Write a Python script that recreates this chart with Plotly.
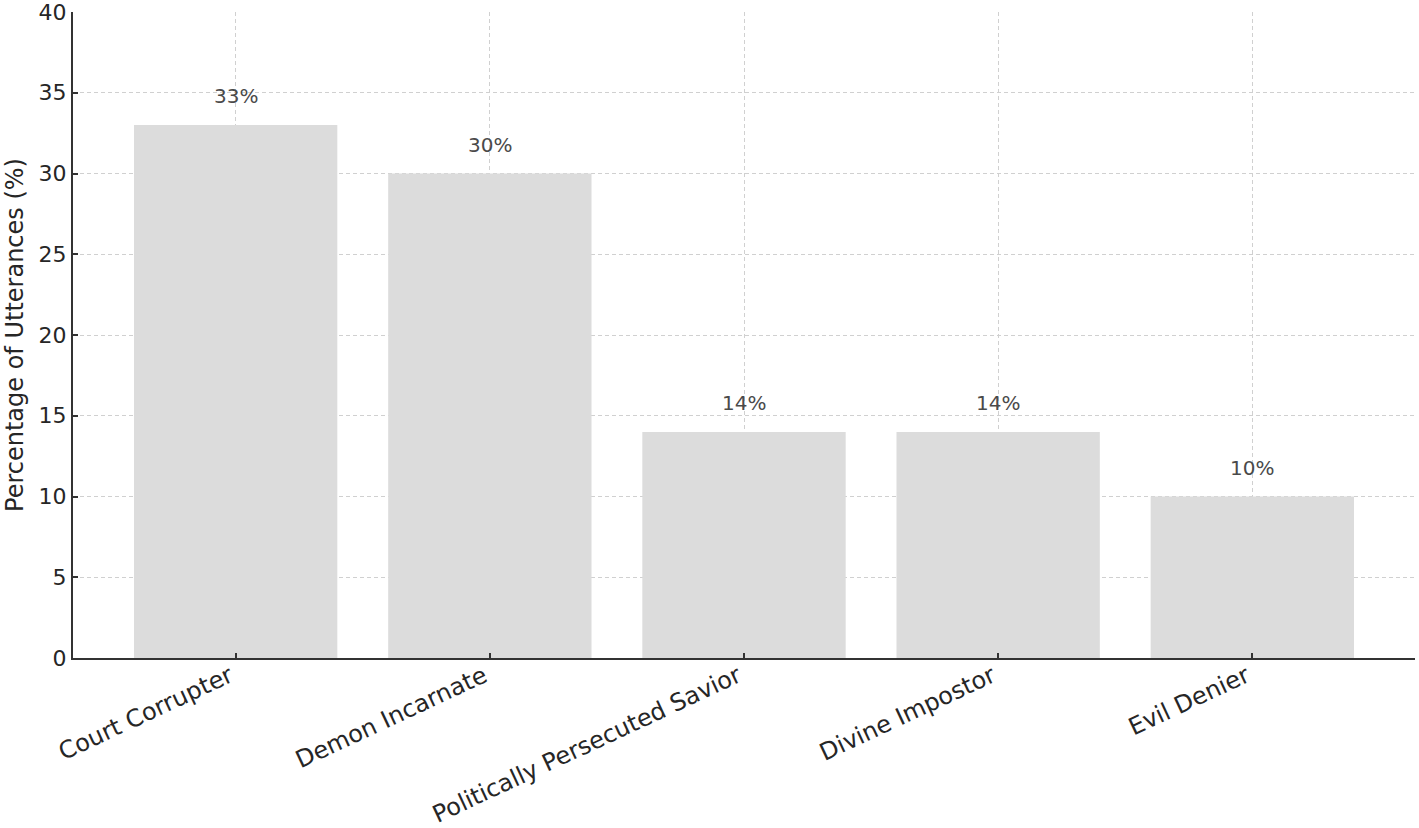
import plotly.graph_objects as go

categories = ["Court Corrupter", "Demon Incarnate", "Politically Persecuted Savior", "Divine Impostor", "Evil Denier"]
values = [33, 30, 14, 14, 10]
y_ticks = [0, 5, 10, 15, 20, 25, 30, 35, 40]

FONT = "DejaVu Sans"

fig = go.Figure()
fig.add_trace(go.Bar(
    x=list(range(len(categories))), y=values,
    width=0.8, marker=dict(color="#dcdcdc", line=dict(width=0)),
    hoverinfo="skip",
))

for i, v in enumerate(values):
    fig.add_annotation(x=i, y=v, text=f"{v}%", showarrow=False, yshift=29,
                       font=dict(family=FONT, size=20, color="#4a4a4a"))

fig.update_layout(
    width=1419, height=828,
    margin=dict(l=73, r=4, t=12, b=170),
    plot_bgcolor="white", paper_bgcolor="white",
    showlegend=False, bargap=0.2,
    font=dict(family=FONT, color="#262626"),
)
fig.update_xaxes(
    range=[-0.64, 4.64], automargin=False,
    tickmode="array", tickvals=list(range(len(categories))), ticktext=categories,
    tickangle=-25, tickfont=dict(family=FONT, size=24, color="#262626"),
    ticks="inside", ticklen=5, tickwidth=1.5, tickcolor="#333333",
    ticklabelshift=-6, ticklabelstandoff=-7, ticklabeloverflow="allow",
    showline=True, linecolor="#333333", linewidth=2,
    showgrid=True, gridcolor="#d0d0d0", gridwidth=1, griddash="4px,3px",
    layer="above traces", zeroline=False,
)
fig.update_yaxes(
    range=[0, 40.0001], automargin=False,
    tickmode="array", tickvals=y_ticks,
    tickfont=dict(family=FONT, size=22, color="#262626"),
    ticks="inside", ticklen=5, tickwidth=1.5, tickcolor="#333333",
    ticklabeloverflow="allow",
    showline=True, linecolor="#333333", linewidth=2,
    showgrid=True, gridcolor="#d0d0d0", gridwidth=1, griddash="4px,3px",
    layer="above traces", zeroline=False,
    title=dict(text="Percentage of Utterances (%)", font=dict(family=FONT, size=24, color="#262626"), standoff=8),
)

fig.write_html("out.html", config={"displayModeBar": False},
               post_script="document.body.style.margin='0';document.body.style.overflow='hidden';")
